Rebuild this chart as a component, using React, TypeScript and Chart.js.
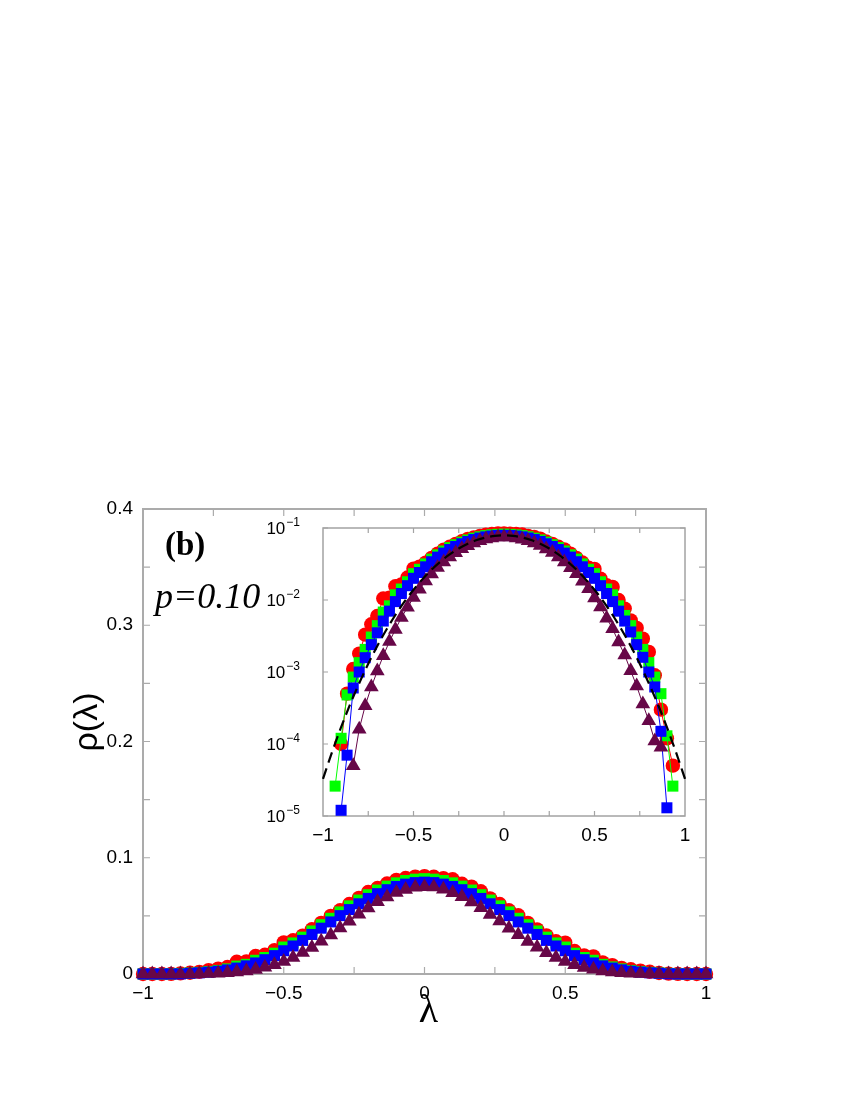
import React, { useEffect, useRef } from 'react';
import { Chart, registerables } from 'chart.js';

Chart.register(...registerables);

// ---- data ----
const lambdas = [
  -1, -0.967, -0.933, -0.9, -0.867, -0.833, -0.8, -0.767, -0.733, -0.7,
  -0.667, -0.633, -0.6, -0.567, -0.533, -0.5, -0.467, -0.433, -0.4, -0.367,
  -0.333, -0.3, -0.267, -0.233, -0.2, -0.167, -0.133, -0.1, -0.067, -0.033,
  0,
  0.033, 0.067, 0.1, 0.133, 0.167, 0.2, 0.233, 0.267, 0.3, 0.333,
  0.367, 0.4, 0.433, 0.467, 0.5, 0.533, 0.567, 0.6, 0.633, 0.667,
  0.7, 0.733, 0.767, 0.8, 0.833, 0.867, 0.9, 0.933, 0.967, 1,
];

const redValues = [
  0, 0, 0, 0.0001, 0.0005, 0.0011, 0.0018, 0.0033, 0.0046, 0.006,
  0.0105, 0.0108, 0.0155, 0.0165, 0.0205, 0.0272, 0.029, 0.033, 0.0385, 0.044,
  0.05, 0.0548, 0.0602, 0.0655, 0.0705, 0.074, 0.0778, 0.081, 0.0826, 0.0838,
  0.0842,
  0.0836, 0.0825, 0.0815, 0.0776, 0.0752, 0.0712, 0.065, 0.0602, 0.0548, 0.0505,
  0.044, 0.0384, 0.0332, 0.0282, 0.027, 0.0198, 0.016, 0.0152, 0.01, 0.0076,
  0.0052, 0.0041, 0.0029, 0.0019, 0.0009, 0.0003, 0.00012, 0.00005, 0, 0,
];

const greenValues = [
  0, 0, 0.000026, 0.00012, 0.00048, 0.00085, 0.00135, 0.00206, 0.00306, 0.0044,
  0.0068, 0.0083, 0.0118, 0.0142, 0.0179, 0.0232, 0.0267, 0.0317, 0.037, 0.0424,
  0.0479, 0.0534, 0.0586, 0.0636, 0.0682, 0.0722, 0.0756, 0.0784, 0.0804, 0.0816,
  0.082,
  0.0816, 0.0804, 0.0784, 0.0756, 0.0722, 0.0682, 0.0636, 0.0586, 0.0534, 0.0479,
  0.0424, 0.037, 0.0317, 0.0267, 0.0232, 0.0179, 0.0142, 0.0118, 0.0083, 0.0061,
  0.0044, 0.00306, 0.00206, 0.00135, 0.00085, 0.0005, 0.00013, 0.000026, 0, 0,
];

const blueValues = [
  0, 0, 0, 0.000012, 0.00007, 0.0006, 0.001, 0.00158, 0.0024, 0.0035,
  0.0051, 0.007, 0.0095, 0.0123, 0.0158, 0.02, 0.0241, 0.0289, 0.034, 0.0394,
  0.0448, 0.0502, 0.0554, 0.0604, 0.065, 0.0691, 0.0725, 0.0753, 0.0773, 0.0786,
  0.079,
  0.0786, 0.0773, 0.0753, 0.0725, 0.0691, 0.065, 0.0604, 0.0554, 0.0502, 0.0448,
  0.0394, 0.034, 0.0289, 0.0241, 0.02, 0.0158, 0.0123, 0.0095, 0.007, 0.0051,
  0.0036, 0.0024, 0.0016, 0.001, 0.00062, 0.00015, 0.000013, 0, 0, 0,
];

const maroonValues = [
  0, 0, 0, 0, 0, 0.00005, 0.00016, 0.00034, 0.00062, 0.00103,
  0.00168, 0.00265, 0.0039, 0.0057, 0.0079, 0.0108, 0.0141, 0.0184, 0.0229, 0.0282,
  0.0336, 0.0396, 0.0454, 0.0514, 0.0568, 0.0621, 0.0663, 0.0702, 0.0727, 0.0747,
  0.075,
  0.0748, 0.0729, 0.07, 0.0665, 0.0619, 0.057, 0.0512, 0.0456, 0.0394, 0.0338,
  0.028, 0.0231, 0.0182, 0.0143, 0.0107, 0.008, 0.0056, 0.004, 0.0026, 0.00172,
  0.00104, 0.00064, 0.00036, 0.00021, 0.00011, 0.00009, 0, 0, 0, 0,
];

const fitLambdas = [
  -1, -0.95, -0.9, -0.85, -0.8, -0.75, -0.7, -0.65, -0.6, -0.55,
  -0.5, -0.45, -0.4, -0.35, -0.3, -0.25, -0.2, -0.15, -0.1, -0.05,
  0,
  0.05, 0.1, 0.15, 0.2, 0.25, 0.3, 0.35, 0.4, 0.45, 0.5,
  0.55, 0.6, 0.65, 0.7, 0.75, 0.8, 0.85, 0.9, 0.95, 1,
];
const fitValues = [
  0.0000327, 0.0000771, 0.000171, 0.000356, 0.000699, 0.0013, 0.0023, 0.00386, 0.00619, 0.00948,
  0.0139, 0.0195, 0.0264, 0.0343, 0.043, 0.0518, 0.0604, 0.068, 0.0739, 0.0777,
  0.079,
  0.0777, 0.0739, 0.068, 0.0604, 0.0518, 0.043, 0.0343, 0.0264, 0.0195, 0.0139,
  0.00948, 0.00619, 0.00386, 0.0023, 0.0013, 0.000699, 0.000356, 0.000171, 0.0000771, 0.0000327,
];

const mainXTicks = [-1, -0.5, 0, 0.5, 1];
const mainXMarks = [-0.75, -0.5, -0.25, 0, 0.25, 0.5, 0.75];
const mainYTicks = [0, 0.1, 0.2, 0.3, 0.4];
const mainYMarks = [0.05, 0.1, 0.15, 0.2, 0.25, 0.3, 0.35];
const insetXTicks = [-1, -0.5, 0, 0.5, 1];
const insetXMarks = [-0.75, -0.5, -0.25, 0, 0.25, 0.5, 0.75];
const insetYExponents = [-5, -4, -3, -2, -1];

const panelLabel = '(b)';
const paramLabel = 'p=0.10';
const yTitle = 'ρ(λ)';
const xTitle = 'λ';

const RED = '#ff0000';
const GREEN = '#00ff00';
const BLUE = '#0000ff';
const MAROON = 'rgb(103,7,72)';

const fmt = (v: number) => String(v).replace('-', '\u2212');

function makeFrame(cfg: any) {
  return {
    id: 'frame' + cfg.name,
    beforeDatasetsDraw(chart: any) {
      const { ctx, chartArea: a, scales } = chart;
      ctx.save();
      ctx.strokeStyle = cfg.color;
      ctx.lineWidth = cfg.tickWidth;
      ctx.beginPath();
      for (const v of cfg.xMarks) {
        const px = scales.x.getPixelForValue(v);
        ctx.moveTo(px, a.bottom);
        ctx.lineTo(px, a.bottom - cfg.len);
        ctx.moveTo(px, a.top);
        ctx.lineTo(px, a.top + cfg.len);
      }
      for (const v of cfg.yMarks) {
        const py = scales.y.getPixelForValue(v);
        ctx.moveTo(a.left, py);
        ctx.lineTo(a.left + cfg.len, py);
        ctx.moveTo(a.right, py);
        ctx.lineTo(a.right - cfg.len, py);
      }
      ctx.stroke();
      ctx.lineWidth = cfg.width;
      ctx.strokeRect(a.left, a.top, a.right - a.left, a.bottom - a.top);
      ctx.restore();
    },
  };
}

const mainText = {
  id: 'mainText',
  afterDraw(chart: any) {
    const { ctx, chartArea: a } = chart;
    ctx.save();
    ctx.fillStyle = '#000';
    ctx.textAlign = 'left';
    ctx.textBaseline = 'alphabetic';
    ctx.font = 'bold 33px "Liberation Serif"';
    ctx.fillText(panelLabel, a.left + 22, a.top + 46);
    ctx.font = 'italic 36px "Liberation Serif"';
    ctx.fillText(paramLabel, a.left + 12, a.top + 99);
    ctx.textAlign = 'center';
    ctx.textBaseline = 'middle';
    ctx.save();
    ctx.translate(a.left - 55, a.top + 213);
    ctx.rotate(-Math.PI / 2);
    ctx.font = '34px "Liberation Sans"';
    ctx.fillText(yTitle, 0, 0);
    ctx.restore();
    ctx.font = '40px "Liberation Serif"';
    ctx.fillText(xTitle, (a.left + a.right) / 2 + 4, a.bottom + 37);
    ctx.restore();
  },
};

const insetText = {
  id: 'insetText',
  afterDraw(chart: any) {
    const { ctx, chartArea: a, scales } = chart;
    ctx.save();
    ctx.fillStyle = '#000';
    ctx.textAlign = 'right';
    for (const e of insetYExponents) {
      const py = scales.y.getPixelForValue(Math.pow(10, e));
      const right = a.left - 23;
      const exp = fmt(e);
      ctx.font = '12px "Liberation Sans"';
      ctx.textBaseline = 'alphabetic';
      const w = ctx.measureText(exp).width;
      ctx.fillText(exp, right, py - 2);
      ctx.font = '17px "Liberation Sans"';
      ctx.fillText('10', right - w - 1, py + 6);
    }
    ctx.restore();
  },
};

function series(values: number[], xs: number[], log: boolean) {
  return xs.map((x, i) => ({ x, y: log && !(values[i] > 0) ? null : values[i] }));
}

function datasets(log: boolean) {
  return [
    {
      label: 'maroon',
      data: series(maroonValues, lambdas, log),
      borderColor: MAROON,
      backgroundColor: MAROON,
      borderWidth: 1,
      pointStyle: 'triangle',
      pointRadius: 8.5,
      pointBorderWidth: 0,
      clip: false,
    },
    {
      label: 'blue',
      data: series(blueValues, lambdas, log),
      borderColor: BLUE,
      backgroundColor: BLUE,
      borderWidth: 1,
      pointStyle: 'rect',
      pointRadius: 7.8,
      pointBorderWidth: 0,
      clip: false,
    },
    {
      label: 'green',
      data: series(greenValues, lambdas, log),
      borderColor: GREEN,
      backgroundColor: GREEN,
      borderWidth: 1,
      pointStyle: 'rect',
      pointRadius: 7.8,
      pointBorderWidth: 0,
      clip: false,
    },
    {
      label: 'red',
      data: series(redValues, lambdas, log),
      borderColor: RED,
      backgroundColor: RED,
      borderWidth: 1,
      pointStyle: 'circle',
      pointRadius: 7.2,
      pointBorderWidth: 0,
      clip: false,
    },
  ];
}

const tickFont = { family: '"Liberation Sans"', size: 19 };

export default function App() {
  const mainRef = useRef<HTMLCanvasElement>(null);
  const insetRef = useRef<HTMLCanvasElement>(null);

  useEffect(() => {
    const main = new Chart(mainRef.current as HTMLCanvasElement, {
      type: 'line',
      data: { datasets: datasets(false) as any },
      options: {
        responsive: false,
        animation: false,
        devicePixelRatio: 1,
        layout: { padding: { left: 75, right: 136, top: 501, bottom: 74 } },
        elements: { line: { tension: 0 } },
        plugins: { legend: { display: false }, tooltip: { enabled: false } },
        scales: {
          x: {
            type: 'linear',
            min: -1,
            max: 1,
            grid: { display: false, drawTicks: false },
            border: { display: false },
            ticks: { font: tickFont, color: '#000', padding: 8, callback: (v: any) => fmt(v) },
            afterBuildTicks: (s: any) => { s.ticks = mainXTicks.map((v) => ({ value: v })); },
            afterFit: (s: any) => { s.height = 40; s.paddingLeft = 0; s.paddingRight = 0; },
          },
          y: {
            type: 'linear',
            min: 0,
            max: 0.4,
            grid: { display: false, drawTicks: false },
            border: { display: false },
            ticks: { font: tickFont, color: '#000', padding: 10, callback: (v: any) => fmt(v) },
            afterBuildTicks: (s: any) => { s.ticks = mainYTicks.map((v) => ({ value: v })); },
            afterFit: (s: any) => { s.width = 60; s.paddingTop = 0; s.paddingBottom = 0; },
          },
        },
      } as any,
      plugins: [
        makeFrame({ name: 'main', color: '#ababab', width: 2, tickWidth: 1.2, len: 7, xMarks: mainXMarks, yMarks: mainYMarks }),
        mainText,
      ],
    });

    const insetSets: any[] = [
      {
        label: 'fit',
        data: fitLambdas.map((x, i) => ({ x, y: fitValues[i] })),
        borderColor: '#000',
        borderWidth: 2.2,
        borderDash: [11, 6],
        pointRadius: 0,
        cubicInterpolationMode: 'monotone',
        clip: false,
      },
      ...datasets(true),
    ];

    const inset = new Chart(insetRef.current as HTMLCanvasElement, {
      type: 'line',
      data: { datasets: insetSets },
      options: {
        responsive: false,
        animation: false,
        devicePixelRatio: 1,
        layout: { padding: { left: 0, right: 15, top: 23, bottom: 0 } },
        elements: { line: { tension: 0 } },
        plugins: { legend: { display: false }, tooltip: { enabled: false } },
        scales: {
          x: {
            type: 'linear',
            min: -1,
            max: 1,
            grid: { display: false, drawTicks: false },
            border: { display: false },
            ticks: { font: tickFont, color: '#000', padding: 8, callback: (v: any) => fmt(v) },
            afterBuildTicks: (s: any) => { s.ticks = insetXTicks.map((v) => ({ value: v })); },
            afterFit: (s: any) => { s.height = 34; s.paddingLeft = 0; s.paddingRight = 0; },
          },
          y: {
            type: 'logarithmic',
            min: 1e-5,
            max: 1e-1,
            grid: { display: false, drawTicks: false },
            border: { display: false },
            ticks: { display: false },
            afterFit: (s: any) => { s.width = 73; s.paddingTop = 0; s.paddingBottom = 0; },
          },
        },
      } as any,
      plugins: [
        makeFrame({
          name: 'inset', color: '#a3a3a3', width: 1.5, tickWidth: 1.2, len: 5,
          xMarks: insetXMarks, yMarks: insetYExponents.map((e) => Math.pow(10, e)),
        }),
        insetText,
      ],
    });

    return () => {
      main.destroy();
      inset.destroy();
    };
  }, []);

  return (
    <div style={{ position: 'relative', width: 834, height: 1080 }}>
      <canvas ref={mainRef} width={834} height={1080} style={{ position: 'absolute', left: 0, top: 0 }} />
      <canvas ref={insetRef} width={450} height={345} style={{ position: 'absolute', left: 242, top: 497 }} />
    </div>
  );
}
